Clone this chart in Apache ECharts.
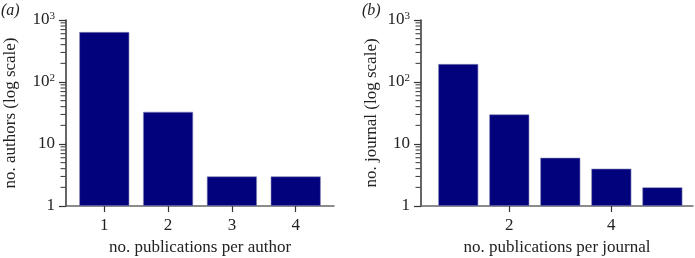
<!DOCTYPE html>
<html>
<head>
<meta charset="utf-8">
<script src="https://cdn.jsdelivr.net/npm/echarts@6/dist/echarts.min.js"></script>
<style>
  html, body { margin: 0; padding: 0; background: #fff; }
  #chart { width: 695px; height: 258px; }
</style>
</head>
<body>
<div id="chart"></div>
<script>
// panel (a): authors
const authorPubs = [1, 2, 3, 4];
const authorCounts = [640, 33, 3, 3];
const authorTicks = [1, 2, 3, 4];

// panel (b): journals
const journalPubs = [1, 2, 3, 4, 5];
const journalCounts = [195, 30, 6, 4, 2];
const journalTicks = [2, 4];

// minor tick values of the log axis (2..9 in each decade)
const minorValues = [2, 3, 4, 5, 6, 7, 8, 9, 20, 30, 40, 50, 60, 70, 80, 90, 200, 300, 400, 500, 600, 700, 800, 900];

const FONT = "Liberation Serif";
const bar = "#02027c";
const axisCol = "#333";

function yLabel(v) {
  if (v === 1) return "1";
  if (v === 10) return "10";
  const e = Math.round(Math.log10(v));
  return "10{sup|" + e + "}";
}

function logAxis(grid, name, gap) {
  return {
    type: "log",
    logBase: 10,
    gridIndex: grid,
    min: 1,
    max: 1000,
    name: name,
    nameLocation: "middle",
    nameGap: gap,
    nameTextStyle: { fontFamily: FONT, fontSize: 17, color: "#222" },
    axisLine: { show: true, lineStyle: { color: axisCol, width: 1.5 } },
    axisTick: { show: true, length: 7, lineStyle: { color: axisCol, width: 1.2 } },
    axisLabel: {
      fontFamily: FONT,
      fontSize: 17,
      color: "#222",
      margin: 11,
      formatter: yLabel,
      rich: {
        sup: { fontFamily: FONT, fontSize: 11, verticalAlign: "top", padding: [0, 0, 8, 0] }
      }
    },
    splitLine: { show: false }
  };
}

function xAxis(grid, min, max, ticks, name) {
  return {
    type: "value",
    gridIndex: grid,
    min: min,
    max: max,
    name: name,
    nameLocation: "middle",
    nameGap: 32,
    nameTextStyle: { fontFamily: FONT, fontSize: 17, color: "#222" },
    axisLine: { show: true, onZero: false, lineStyle: { color: "#666", width: 1.5 } },
    axisTick: { show: true, length: 6, customValues: ticks, lineStyle: { color: axisCol, width: 1.2 } },
    axisLabel: { customValues: ticks, fontFamily: FONT, fontSize: 17, color: "#222", margin: 11 },
    splitLine: { show: false }
  };
}

// short minor ticks on the y axis, placed through the log axis as thin rect symbols
function minorTickSeries(idx, xMin) {
  return {
    type: "scatter",
    xAxisIndex: idx,
    yAxisIndex: idx,
    silent: true,
    clip: false,
    z: 5,
    symbol: "rect",
    symbolSize: [5, 1],
    symbolOffset: [-3, 0],
    itemStyle: { color: axisCol, opacity: 1 },
    data: minorValues.map(function (v) { return [xMin, v]; })
  };
}

const chart = echarts.init(document.getElementById("chart"), null, { renderer: "canvas" });
chart.setOption({
  backgroundColor: "#fff",
  animation: false,
  grid: [
    { left: 66, right: 361, top: 20, bottom: 52, outerBoundsMode: "none", containLabel: false },
    { left: 421, right: 2, top: 20, bottom: 52, outerBoundsMode: "none", containLabel: false }
  ],
  xAxis: [
    xAxis(0, 0.4, 4.6, authorTicks, "no. publications per author"),
    xAxis(1, 0.27, 5.6, journalTicks, "no. publications per journal")
  ],
  yAxis: [
    logAxis(0, "no. authors (log scale)", 47),
    logAxis(1, "no. journal (log scale)", 41)
  ],
  graphic: [
    { type: "text", left: 1, top: 3, style: { text: "(a)", font: "italic 16px " + FONT, fill: "#222" } },
    { type: "text", left: 362, top: 3, style: { text: "(b)", font: "italic 16px " + FONT, fill: "#222" } }
  ],
  series: [
    {
      type: "bar",
      xAxisIndex: 0,
      yAxisIndex: 0,
      barWidth: 50,
      data: authorPubs.map(function (x, i) { return [x, authorCounts[i]]; }),
      itemStyle: { color: bar, borderColor: "#8a8ab8", borderWidth: 0.6 }
    },
    {
      type: "bar",
      xAxisIndex: 1,
      yAxisIndex: 1,
      barWidth: 40,
      data: journalPubs.map(function (x, i) { return [x, journalCounts[i]]; }),
      itemStyle: { color: bar, borderColor: "#8a8ab8", borderWidth: 0.6 }
    },
    minorTickSeries(0, 0.4),
    minorTickSeries(1, 0.27)
  ]
});
</script>
</body>
</html>
